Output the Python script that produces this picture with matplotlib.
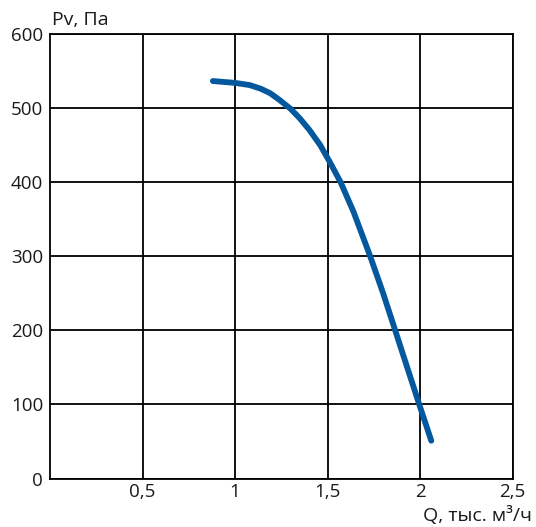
import matplotlib
matplotlib.use('Agg')
import matplotlib.pyplot as plt

plt.rcParams['font.family'] = ['Open Sans', 'DejaVu Sans']

# Pressure curve
q_values = [0.88, 1.00, 1.08, 1.14, 1.19, 1.24, 1.30, 1.35, 1.40, 1.46,
            1.51, 1.57, 1.64, 1.73, 1.80, 1.865, 1.93, 1.995, 2.06]
pv_values = [536.5, 534, 531, 526, 520, 511, 499, 486, 471, 450,
             428, 400, 360, 300, 250, 200, 150, 100, 51]

x_ticks = [0.5, 1, 1.5, 2, 2.5]
x_tick_labels = ['0,5', '1', '1,5', '2', '2,5']
y_ticks = [0, 100, 200, 300, 400, 500, 600]

fig = plt.figure(figsize=(5.36, 5.27), dpi=100)
ax = fig.add_axes([50 / 536, 1 - 478.5 / 527, 462.7 / 536, 444.5 / 527])

ax.plot(q_values, pv_values, color='#03589e', lw=4.2, solid_capstyle='round',
        solid_joinstyle='round', zorder=3)

ax.set_xlim(0, 2.5)
ax.set_ylim(0, 600)
ax.set_xticks(x_ticks)
ax.set_xticklabels(x_tick_labels)
ax.set_yticks(y_ticks)

ax.grid(True, color='black', lw=1.3)
for s in ax.spines.values():
    s.set_linewidth(1.3)
    s.set_color('black')

ax.tick_params(axis='both', length=0, labelsize=13.5, colors='#1a1a1a')
ax.tick_params(axis='x', pad=3)
ax.tick_params(axis='y', pad=5)

fig.text(52 / 536, 1 - 25 / 527, 'Pv, Па', fontsize=14, color='#1a1a1a',
         ha='left', va='baseline')
fig.text(532 / 536, 1 - 521 / 527, 'Q, тыс. м³/ч', fontsize=14, color='#1a1a1a',
         ha='right', va='baseline')

fig.savefig('out.png', dpi=100)
